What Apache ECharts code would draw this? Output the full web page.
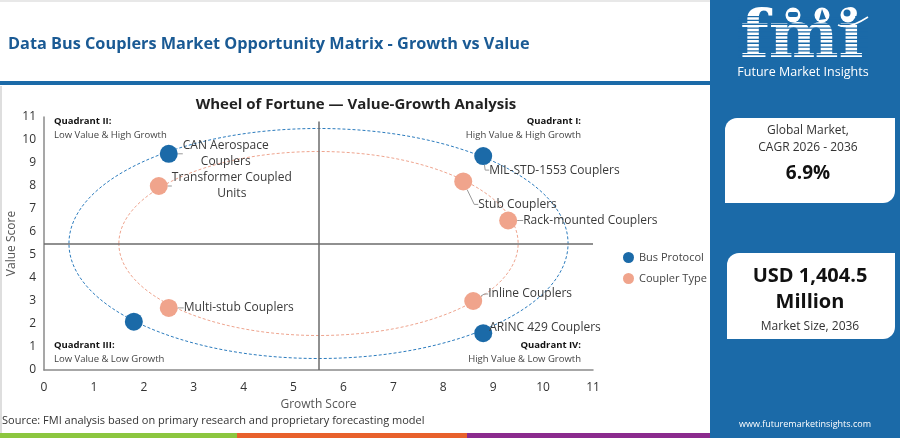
<!DOCTYPE html>
<html>
<head>
<meta charset="utf-8">
<script src="https://cdn.jsdelivr.net/npm/echarts@6.0.0/dist/echarts.min.js"></script>
<style>
  html, body { margin: 0; padding: 0; background: #fff; }
  #chart { width: 900px; height: 438px; }
</style>
</head>
<body>
<div id="chart"></div>
<script>
// values
const busNames = ['CAN Aerospace Couplers', 'MIL-STD-1553 Couplers', '', 'ARINC 429 Couplers']
const busGrowth = [2.5, 8.8, 1.8, 8.8]
const busValue = [9.4, 9.3, 2.1, 1.6]

const typeNames = ['Transformer Coupled Units', 'Stub Couplers', 'Rack-mounted Couplers', 'Multi-stub Couplers', 'Inline Couplers']
const typeGrowth = [2.3, 8.4, 9.3, 2.5, 8.6]
const typeValue = [8.0, 8.2, 6.5, 2.7, 3.0]

// dashed rings: centre growth, centre value, radius growth, radius value
const ringCentre = [5.5, 5.5]
const ringRadius = [5, 4]

const splitGrowth = 5.5
const splitValue = 5.5
const axisTicks = [0, 1, 2, 3, 4, 5, 6, 7, 8, 9, 10, 11]

const BLUE = '#1b6aa8'
const CORAL = '#f0a48c'
const FONT = '"Open Sans", "Noto Sans", sans-serif'

// label nudges (px) from the default "right" spot
const labelNudge = {
  'CAN Aerospace Couplers': [43, 0, 'center'],
  'Transformer Coupled Units': [59, 0, 'center'],
  'MIL-STD-1553 Couplers': [-8, 14],
  'Stub Couplers': [1, 23],
  'Rack-mounted Couplers': [1, 0],
  'Multi-stub Couplers': [1, 0],
  'Inline Couplers': [1, -7],
  'ARINC 429 Couplers': [-8, -6]
}
const wrapped = {
  'CAN Aerospace Couplers': 'CAN Aerospace\nCouplers',
  'Transformer Coupled Units': 'Transformer Coupled\nUnits'
}
const namesBySeries = { 1: busNames, 2: typeNames }

function points(names, xs, ys) {
  return names.map((n, i) => {
    const item = { name: n, value: [xs[i], ys[i]] }
    if (!n) item.label = { show: false }
    else if (labelNudge[n] && labelNudge[n][2]) item.label = { align: labelNudge[n][2] }
    return item
  })
}

function scatterSeries(name, color, data) {
  return {
    name: name,
    type: 'scatter',
    symbolSize: 18,
    z: 5,
    itemStyle: { color: color, opacity: 1 },
    data: data,
    label: {
      show: true,
      position: 'right',
      distance: 5,
      color: '#3a3a3a',
      fontSize: 12,
      fontFamily: FONT,
      lineHeight: 16,
      formatter: p => wrapped[p.name] || p.name
    },
    labelLine: { show: true, length2: 4, lineStyle: { color: '#999', width: 1 } },
    labelLayout: p => {
      const names = namesBySeries[p.seriesIndex] || []
      const nudge = labelNudge[names[p.dataIndex]] || [0, 0]
      return { dx: nudge[0], dy: nudge[1] }
    }
  }
}

const ringData = ringRadius.map(r => [ringCentre[0], ringCentre[1], r, r])
const ringColors = ['#2b7bbd', '#eea48e']

const chart = echarts.init(document.getElementById('chart'))

const txt = (x, y, text, size, opts) => Object.assign({
  type: 'text', x: x, y: y, silent: true,
  style: Object.assign({
    text: text, fontSize: size, fontFamily: FONT, fill: '#333',
    verticalAlign: 'middle', align: 'left'
  }, (opts && opts.style) || {})
}, opts && opts.el)

const graphic = [
  { type: 'rect', shape: { x: 0, y: 0, width: 710, height: 2 }, style: { fill: '#e8e8e8' }, silent: true },
  { type: 'rect', shape: { x: 0, y: 86, width: 2, height: 347 }, style: { fill: '#dedede' }, silent: true },
  txt(8, 44, 'Data Bus Couplers Market Opportunity Matrix - Growth vs Value', 16.3, { style: { fill: '#1a5a94', fontWeight: 'bold' } }),
  { type: 'rect', shape: { x: 0, y: 81, width: 710, height: 4 }, style: { fill: BLUE }, silent: true },
  txt(356, 105, 'Wheel of Fortune \u2014 Value-Growth Analysis', 15, { style: { fill: '#222', fontWeight: 'bold', align: 'center' } }),

  txt(54, 121, 'Quadrant II:', 9.5, { style: { fill: '#111', fontWeight: 'bold' } }),
  txt(54, 135, 'Low Value & High Growth', 9.5, { style: { fill: '#444' } }),
  txt(581, 121, 'Quadrant I:', 9.5, { style: { fill: '#111', fontWeight: 'bold', align: 'right' } }),
  txt(581, 135, 'High Value & High Growth', 9.5, { style: { fill: '#444', align: 'right' } }),
  txt(54, 345, 'Quadrant III:', 9.5, { style: { fill: '#111', fontWeight: 'bold' } }),
  txt(54, 359, 'Low Value & Low Growth', 9.5, { style: { fill: '#444' } }),
  txt(581, 345, 'Quadrant IV:', 9.5, { style: { fill: '#111', fontWeight: 'bold', align: 'right' } }),
  txt(581, 359, 'High Value & Low Growth', 9.5, { style: { fill: '#444', align: 'right' } }),

  txt(2, 421, 'Source: FMI analysis based on primary research and proprietary forecasting model', 11, { style: { fill: '#333' } }),
  { type: 'rect', shape: { x: 0, y: 433, width: 237, height: 5 }, style: { fill: '#8cc63f' }, silent: true },
  { type: 'rect', shape: { x: 237, y: 433, width: 230, height: 5 }, style: { fill: '#e8612c' }, silent: true },
  { type: 'rect', shape: { x: 467, y: 433, width: 243, height: 5 }, style: { fill: '#8b2b8e' }, silent: true },

  // right panel
  { type: 'rect', shape: { x: 710, y: 0, width: 190, height: 438 }, style: { fill: BLUE }, silent: true },
  txt(802, 40, 'fmi', 66, { style: { fill: '#fff', fontWeight: 'bold', align: 'center', fontFamily: '"DejaVu Serif", serif' } }),
  {
    type: 'group', silent: true,
    children: Array.from({ length: 13 }, (_, i) => ({
      type: 'rect', shape: { x: 738, y: 16 + i * 3.8, width: 130, height: 1.3 }, style: { fill: BLUE }
    }))
  },
  { type: 'circle', shape: { cx: 793, cy: 15, r: 7.5 }, style: { fill: '#fff' }, silent: true },
  { type: 'circle', shape: { cx: 822, cy: 15, r: 7.5 }, style: { fill: '#fff' }, silent: true },
  { type: 'circle', shape: { cx: 848, cy: 15, r: 7.5 }, style: { fill: '#fff' }, silent: true },
  { type: 'rect', shape: { x: 788, y: 12, width: 10, height: 5, r: 2 }, style: { fill: BLUE }, silent: true },
  { type: 'polygon', shape: { points: [[819, 20], [822, 9], [826, 19]] }, style: { fill: BLUE }, silent: true },
  { type: 'circle', shape: { cx: 847, cy: 13, r: 3.5 }, style: { fill: BLUE }, silent: true },
  { type: 'bezierCurve', shape: { x1: 838, y1: 25, cpx1: 848, cpy1: 30, x2: 868, y2: 17 }, style: { stroke: '#fff', lineWidth: 1.5, fill: 'none' }, silent: true },
  txt(803, 72, 'Future Market Insights', 12.5, { style: { fill: '#fff', align: 'center' } }),

  { type: 'rect', shape: { x: 725, y: 118, width: 170, height: 85, r: [12, 0, 12, 0] }, style: { fill: '#fff' }, silent: true },
  txt(808, 131, 'Global Market,', 12, { style: { align: 'center' } }),
  txt(808, 148, 'CAGR 2026 - 2036', 12, { style: { align: 'center' } }),
  txt(808, 174, '6.9%', 19, { style: { align: 'center', fontWeight: 'bold', fill: '#111' } }),

  { type: 'rect', shape: { x: 727, y: 253, width: 168, height: 86, r: [12, 0, 12, 0] }, style: { fill: '#fff' }, silent: true },
  txt(810, 276, 'USD 1,404.5', 20, { style: { align: 'center', fontWeight: 'bold', fill: '#111' } }),
  txt(810, 302, 'Million', 20, { style: { align: 'center', fontWeight: 'bold', fill: '#111' } }),
  txt(810, 327, 'Market Size, 2036', 12, { style: { align: 'center' } }),
  txt(805, 424, 'www.futuremarketinsights.com', 9, { style: { align: 'center', fill: '#fff' } })
]

const axisCommon = {
  type: 'value',
  min: axisTicks[0],
  max: axisTicks[axisTicks.length - 1],
  interval: 1,
  splitLine: { show: false },
  axisTick: { show: false },
  axisLine: { show: true, lineStyle: { color: '#8a8a8a', width: 1.5 } },
  nameLocation: 'middle',
  nameMoveOverlap: false,
  nameTextStyle: { color: '#555', fontSize: 12, fontFamily: FONT }
}

chart.setOption({
  animation: false,
  textStyle: { fontFamily: FONT },
  grid: { left: 44, right: 307, top: 117, bottom: 68, outerBoundsMode: 'none', containLabel: false },
  legend: {
    data: ['Bus Protocol', 'Coupler Type'],
    orient: 'vertical',
    left: 618,
    top: 247,
    icon: 'circle',
    itemWidth: 11,
    itemHeight: 11,
    itemGap: 10,
    textStyle: { color: '#444', fontSize: 11, fontFamily: FONT }
  },
  xAxis: Object.assign({}, axisCommon, {
    name: 'Growth Score',
    nameGap: 29,
    axisLabel: { color: '#333', fontSize: 12, margin: 12, fontFamily: FONT }
  }),
  yAxis: Object.assign({}, axisCommon, {
    name: 'Value Score',
    nameGap: 26,
    axisLabel: { color: '#333', fontSize: 12, margin: 8, fontFamily: FONT }
  }),
  graphic: graphic,
  series: [
    {
      type: 'custom',
      name: 'rings',
      silent: true,
      z: 1,
      data: ringData,
      encode: { x: 0, y: 1 },
      renderItem: (params, api) => {
        const c = api.coord([api.value(0), api.value(1)])
        const s = api.size([api.value(2), api.value(3)])
        return {
          type: 'ellipse',
          shape: { cx: c[0], cy: c[1], rx: s[0], ry: s[1] },
          style: { fill: 'none', stroke: ringColors[params.dataIndex], lineWidth: 1, lineDash: [3, 2] }
        }
      },
      markLine: {
        silent: true,
        symbol: 'none',
        label: { show: false },
        lineStyle: { color: '#6b6b6b', width: 1.5, type: 'solid' },
        data: [
          [{ coord: [splitGrowth, 0] }, { coord: [splitGrowth, 10.8] }],
          [{ coord: [0, splitValue] }, { coord: [11, splitValue] }]
        ]
      }
    },
    scatterSeries('Bus Protocol', BLUE, points(busNames, busGrowth, busValue)),
    scatterSeries('Coupler Type', CORAL, points(typeNames, typeGrowth, typeValue))
  ]
})
</script>
</body>
</html>
